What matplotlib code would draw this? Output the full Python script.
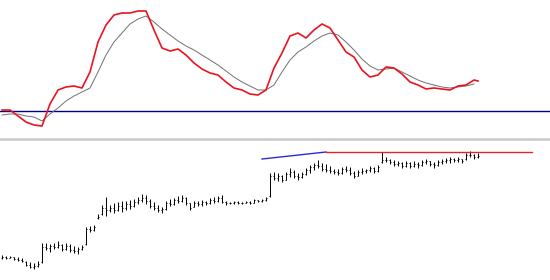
import numpy as np
import matplotlib
matplotlib.use("Agg")
import matplotlib.pyplot as plt

# oscillator (top panel), sampled every 2 bars
osc_t = list(range(0, 120, 2))
osc_fast = [1, 1, -5, -11, -14, -15, 7, 21, 24, 25, 23, 39, 69, 86, 96, 98, 98, 100, 100, 81,
            63, 60, 62, 56, 48, 42, 38, 36, 29, 23, 21, 17, 16, 21, 43, 58, 75, 78, 73, 81,
            87, 83, 71, 59, 54, 41, 34, 36, 44, 43, 37, 29, 26, 22, 23, 22, 21, 25, 26, 31]
osc_fast_last = (119, 30)
osc_slow = [-4, -3, -3, -5, -6, -10, -3, 3, 10, 15, 19, 23, 39, 56, 69, 78, 87, 92, 95, 89,
            82, 76, 70, 65, 61, 56, 51, 46, 40, 34, 29, 25, 21, 21, 26, 39, 51, 59, 64, 70,
            75, 78, 76, 69, 61, 52, 45, 41, 42, 43, 39, 35, 31, 28, 26, 24, 23, 24, 25, 27]

# price bars (bottom panel)
bar_high = [25, 24, 24, 23, 23, 22, 19, 18, 17, 19, 37, 37, 36, 37, 39, 36, 37, 36, 34, 33,
            35, 53, 54, 55, 66, 75, 83, 75, 77, 78, 79, 79, 80, 81, 83, 86, 85, 81, 78, 75,
            73, 79, 81, 82, 84, 85, 83, 77, 79, 79, 80, 79, 82, 83, 84, 85, 79, 78, 79, 79,
            78, 79, 79, 81, 80, 81, 83, 107, 108, 107, 105, 108, 112, 110, 107, 108, 112, 115, 117, 120,
            117, 116, 114, 111, 111, 113, 114, 113, 109, 110, 112, 111, 114, 113, 115, 128, 123, 121, 120, 119,
            118, 119, 118, 119, 118, 120, 121, 119, 118, 120, 121, 122, 123, 122, 123, 121, 127, 129, 126, 127]
bar_low = [21, 21, 22, 20, 19, 18, 14, 12, 11, 13, 17, 30, 28, 31, 32, 29, 30, 28, 27, 26,
           30, 35, 48, 49, 61, 65, 64, 68, 67, 69, 68, 70, 71, 73, 76, 78, 76, 72, 70, 68,
           67, 70, 74, 75, 77, 78, 75, 70, 73, 74, 74, 75, 76, 77, 78, 77, 75, 76, 76, 76,
           76, 77, 76, 77, 78, 78, 79, 83, 100, 99, 98, 100, 103, 102, 100, 102, 105, 107, 110, 112,
           109, 108, 107, 106, 105, 106, 108, 105, 102, 104, 106, 107, 108, 107, 108, 117, 118, 116, 114, 114,
           112, 113, 112, 113, 112, 114, 116, 114, 112, 114, 116, 117, 117, 118, 118, 117, 120, 123, 121, 122]
bar_open = [22, 23, 22, 23, 21, 20, 18, 15, 13, 14, 18, 33, 32, 34, 33, 35, 31, 34, 30, 29,
            31, 36, 51, 50, 62, 66, 72, 70, 72, 70, 74, 72, 76, 74, 78, 80, 82, 79, 74, 72,
            70, 71, 77, 76, 80, 79, 82, 77, 73, 77, 76, 78, 77, 80, 79, 82, 78, 77, 77, 78,
            77, 77, 78, 77, 80, 79, 80, 84, 104, 102, 104, 100, 106, 108, 104, 103, 106, 110, 113, 115,
            114, 111, 110, 109, 108, 107, 111, 110, 107, 104, 108, 109, 110, 112, 109, 118, 120, 120, 118, 116,
            117, 114, 117, 114, 116, 115, 118, 119, 116, 115, 118, 119, 120, 121, 120, 121, 121, 125, 125, 123]
bar_close = [23, 22, 23, 21, 20, 19, 15, 13, 14, 16, 33, 32, 34, 33, 35, 31, 34, 30, 29, 31,
             33, 51, 50, 53, 63, 72, 70, 72, 70, 74, 72, 76, 74, 78, 80, 82, 79, 74, 72, 70,
             71, 77, 76, 80, 79, 82, 77, 72, 77, 76, 78, 77, 80, 79, 82, 78, 77, 77, 78, 77,
             77, 78, 77, 80, 79, 80, 82, 104, 102, 104, 100, 106, 108, 104, 103, 106, 110, 113, 115, 114,
             111, 110, 109, 108, 107, 111, 110, 107, 104, 108, 109, 110, 112, 109, 113, 120, 120, 118, 116, 117,
             114, 117, 114, 116, 115, 118, 119, 116, 115, 118, 119, 120, 121, 120, 121, 119, 125, 125, 123, 124]

# drawn lines on the price panel
trend_t = [65, 81]
trend_p = [121, 128]
level_t = [81, 132.5]
level_p = [128, 128]

fig = plt.figure(figsize=(5.5, 2.8), dpi=100)
ax1 = fig.add_axes([0, 142 / 280, 1, 138 / 280])
ax2 = fig.add_axes([0, 0, 1, 141 / 280])

for ax in (ax1, ax2):
    ax.set_xlim(-0.5, 137)
    ax.set_xticks([])
    ax.set_yticks([])
    for s in ax.spines.values():
        s.set_visible(False)

# top: oscillator
ax1.set_ylim(-27, 111)
ax1.axhline(0, color="#000080", lw=1.0)
ax1.plot(osc_t, osc_slow, color="#707070", lw=0.7)
ax1.plot(osc_t + [osc_fast_last[0]], osc_fast + [osc_fast_last[1]], color="#e8141e", lw=1.2)

# bottom: OHLC bars
ax2.set_ylim(0, 141)
ax2.spines["top"].set_visible(True)
ax2.spines["top"].set_color("#c8c8c8")
ax2.spines["top"].set_linewidth(1.8)
t = np.arange(len(bar_high))
ax2.vlines(t, bar_low, bar_high, color="black", lw=0.7)
ax2.hlines(bar_open, t - 0.3, t, color="black", lw=0.7)
ax2.hlines(bar_close, t, t + 0.3, color="black", lw=0.7)
ax2.plot(trend_t, trend_p, color="#2a2ad8", lw=1.0)
ax2.plot(level_t, level_p, color="#e8202a", lw=1.0)

fig.savefig("out.png", dpi=100)
